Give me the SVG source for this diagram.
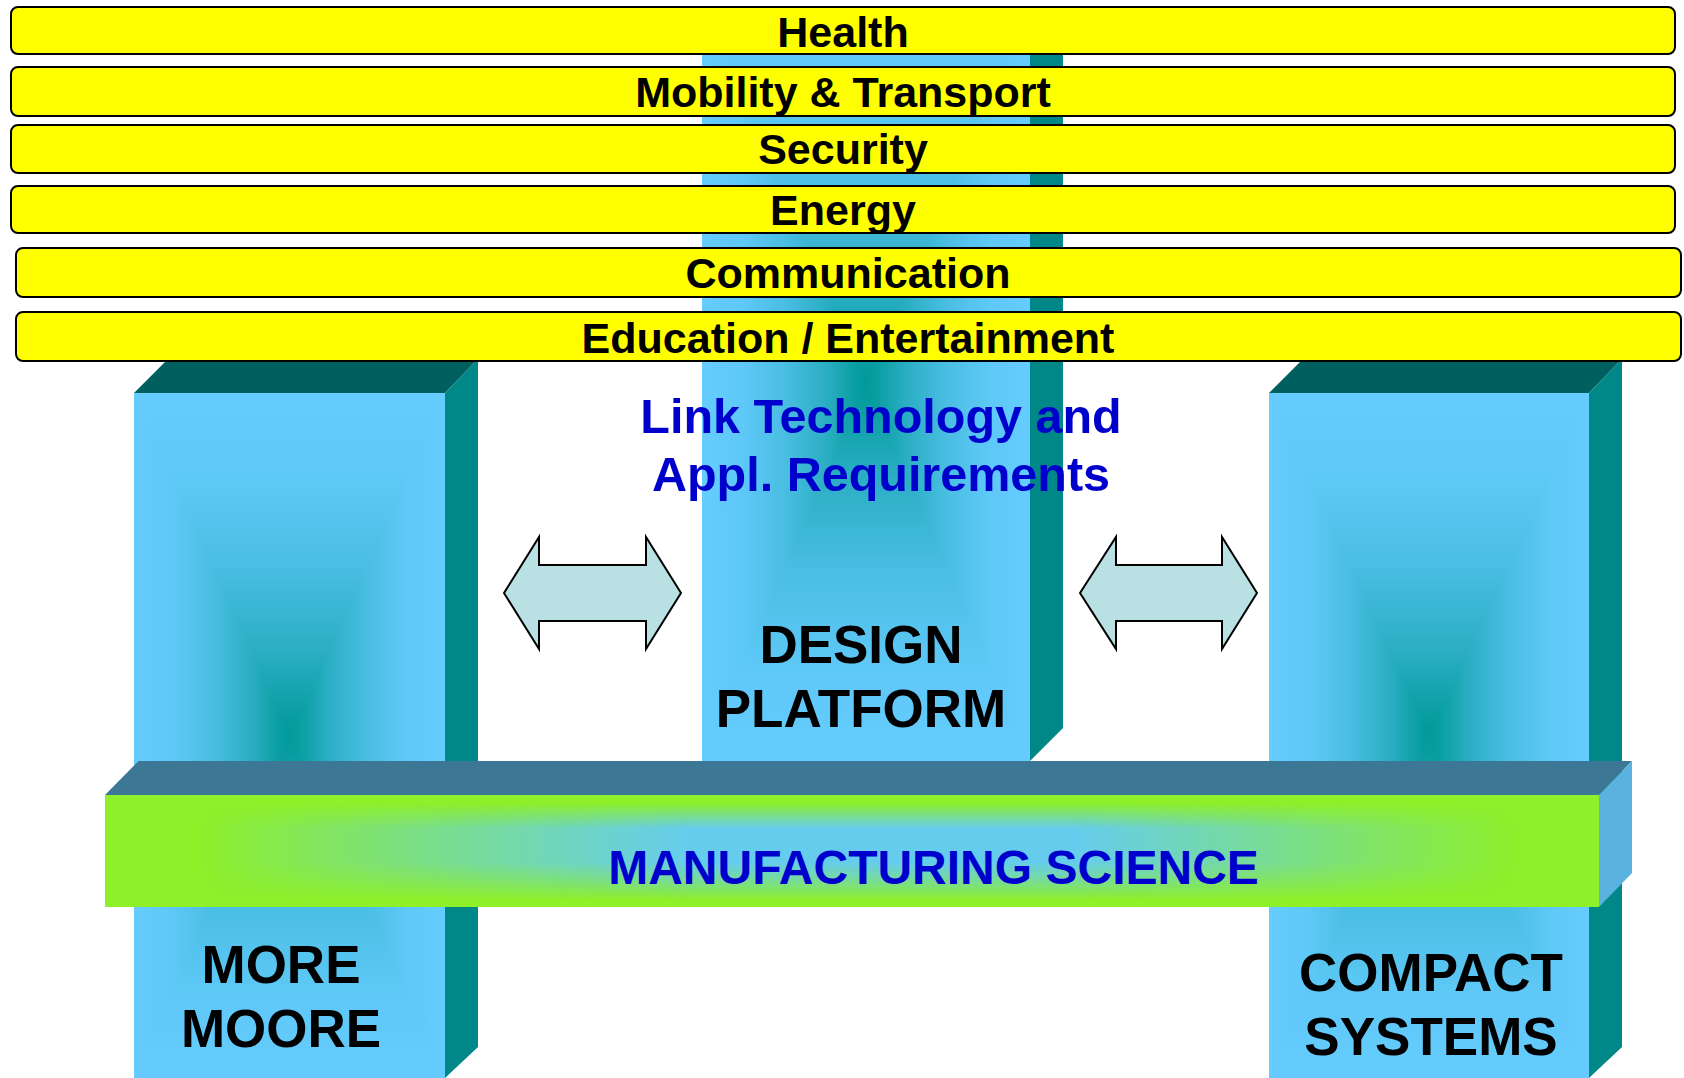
<svg xmlns="http://www.w3.org/2000/svg" width="1684" height="1078" viewBox="0 0 1684 1078">
<style>
.bar{fill:#FFFF00;stroke:#000;stroke-width:2}
.bt{font-family:"Liberation Sans",Arial,sans-serif;font-weight:bold;font-size:43px;fill:#000;text-anchor:middle}
.big{font-family:"Liberation Sans",Arial,sans-serif;font-weight:bold;font-size:53px;fill:#000;text-anchor:middle}
.blue{font-family:"Liberation Sans",Arial,sans-serif;font-weight:bold;fill:#0000CC;text-anchor:middle}
.top{fill:#005F5F}
.side{fill:#008888}
.arrow{fill:#B9E0E3;stroke:#000;stroke-width:2;stroke-linejoin:miter}
.lt{mix-blend-mode:lighten}
</style>
<defs>
<linearGradient id="pv" x1="0" y1="0" x2="0" y2="1">
<stop offset="0" stop-color="#66CCFF"/><stop offset=".125" stop-color="#5EC8F7"/><stop offset=".25" stop-color="#4ABEE3"/><stop offset=".377" stop-color="#2BAEC4"/><stop offset=".453" stop-color="#0FA1A8"/><stop offset=".5" stop-color="#009999"/><stop offset=".55" stop-color="#0FA1A8"/><stop offset=".625" stop-color="#2BAEC4"/><stop offset=".75" stop-color="#4ABEE3"/><stop offset=".875" stop-color="#5EC8F7"/><stop offset="1" stop-color="#66CCFF"/>
</linearGradient>
<linearGradient id="ph" href="#pv" x1="0" y1="0" x2="1" y2="0"/>
<linearGradient id="pvc" href="#pv" gradientUnits="userSpaceOnUse" x1="0" y1="5" x2="0" y2="761"/>
<linearGradient id="mhg" x1="0" y1="0" x2="1" y2="0">
<stop offset="0" stop-color="#fff" stop-opacity="0"/><stop offset=".06" stop-color="#fff" stop-opacity="0"/><stop offset=".15" stop-color="#fff" stop-opacity=".3"/><stop offset=".27" stop-color="#fff" stop-opacity=".65"/><stop offset=".39" stop-color="#fff" stop-opacity="1"/><stop offset=".65" stop-color="#fff" stop-opacity="1"/><stop offset=".72" stop-color="#fff" stop-opacity=".75"/><stop offset=".83" stop-color="#fff" stop-opacity=".38"/><stop offset=".95" stop-color="#fff" stop-opacity="0"/><stop offset="1" stop-color="#fff" stop-opacity="0"/>
</linearGradient>
<linearGradient id="mvg" x1="0" y1="0" x2="0" y2="1">
<stop offset="0" stop-color="#fff" stop-opacity="0"/><stop offset=".07" stop-color="#fff" stop-opacity="0"/><stop offset=".18" stop-color="#fff" stop-opacity=".5"/><stop offset=".3" stop-color="#fff" stop-opacity="1"/><stop offset=".6" stop-color="#fff" stop-opacity="1"/><stop offset=".75" stop-color="#fff" stop-opacity=".6"/><stop offset=".94" stop-color="#fff" stop-opacity="0"/><stop offset="1" stop-color="#fff" stop-opacity="0"/>
</linearGradient>
<mask id="mh" maskUnits="userSpaceOnUse" x="105" y="795" width="1494" height="112"><rect x="105" y="795" width="1494" height="112" fill="url(#mhg)"/></mask>
<mask id="mv" maskUnits="userSpaceOnUse" x="105" y="795" width="1494" height="112"><rect x="105" y="795" width="1494" height="112" fill="url(#mvg)"/></mask>
</defs>
<rect width="1684" height="1078" fill="#fff"/>

<g id="design-platform">
<polygon class="side" points="1030,45 1063,12 1063,728 1030,761"/>
<g style="isolation:isolate">
<rect x="702" y="45" width="328" height="716" fill="url(#pvc)"/>
<rect class="lt" x="702" y="45" width="328" height="716" fill="url(#ph)"/>
</g>
</g>

<g id="more-moore">
<polygon class="top" points="134,393 168,359 478,359 445,393"/>
<polygon class="side" points="445,393 478,359 478,1047 445,1078"/>
<g style="isolation:isolate">
<rect x="134" y="393" width="311" height="685" fill="url(#pv)"/>
<rect class="lt" x="134" y="393" width="311" height="685" fill="url(#ph)"/>
</g>
</g>

<g id="compact-systems">
<polygon class="top" points="1269,393 1303,359 1622,359 1589,393"/>
<polygon class="side" points="1589,393 1622,359 1622,1047 1589,1078"/>
<g style="isolation:isolate">
<rect x="1269" y="393" width="320" height="685" fill="url(#pv)"/>
<rect class="lt" x="1269" y="393" width="320" height="685" fill="url(#ph)"/>
</g>
</g>

<g id="health"><rect class="bar" x="11" y="7" width="1664" height="47" rx="7"/><text class="bt" x="843" y="47">Health</text></g>
<g id="mobility"><rect class="bar" x="11" y="67" width="1664" height="49" rx="7"/><text class="bt" x="843" y="107">Mobility &amp; Transport</text></g>
<g id="security"><rect class="bar" x="11" y="125" width="1664" height="48" rx="7"/><text class="bt" x="843" y="164">Security</text></g>
<g id="energy"><rect class="bar" x="11" y="186" width="1664" height="47" rx="7"/><text class="bt" x="843" y="225">Energy</text></g>
<g id="communication"><rect class="bar" x="16" y="248" width="1665" height="49" rx="7"/><text class="bt" x="848" y="288">Communication</text></g>
<g id="education"><rect class="bar" x="16" y="312" width="1665" height="49" rx="7"/><text class="bt" x="848" y="353">Education / Entertainment</text></g>

<g id="manufacturing-science">
<polygon fill="#3C7896" points="105,795 138.5,761 1632,761 1599,795"/>
<polygon fill="#5AB3DF" points="1599,795 1632,761 1632,873 1599,907"/>
<rect x="105" y="795" width="1494" height="112" fill="#8EF028"/>
<g mask="url(#mv)"><rect x="105" y="795" width="1494" height="112" fill="#66CCEE" mask="url(#mh)"/></g>
<text class="blue" x="933.5" y="884" font-size="48">MANUFACTURING SCIENCE</text>
</g>

<g id="labels">
<text class="blue" x="881" y="433" font-size="48.5">Link Technology and</text>
<text class="blue" x="881" y="491" font-size="48.5">Appl. Requirements</text>
<text class="big" x="861" y="663" font-size="53.5">DESIGN</text>
<text class="big" x="861" y="727" font-size="54.5">PLATFORM</text>
<text class="big" x="281" y="983">MORE</text>
<text class="big" x="281" y="1047">MOORE</text>
<text class="big" x="1431" y="991" font-size="54.5">COMPACT</text>
<text class="big" x="1431" y="1055" font-size="54.5">SYSTEMS</text>
</g>

<g id="connectors">
<polygon class="arrow" points="504,593 539,537 539,565 646,565 646,537 681,593 646,649 646,621 539,621 539,649"/>
<polygon class="arrow" points="1080,593 1116,537 1116,565 1222,565 1222,537 1257,593 1222,649 1222,621 1116,621 1116,649"/>
</g>
</svg>
